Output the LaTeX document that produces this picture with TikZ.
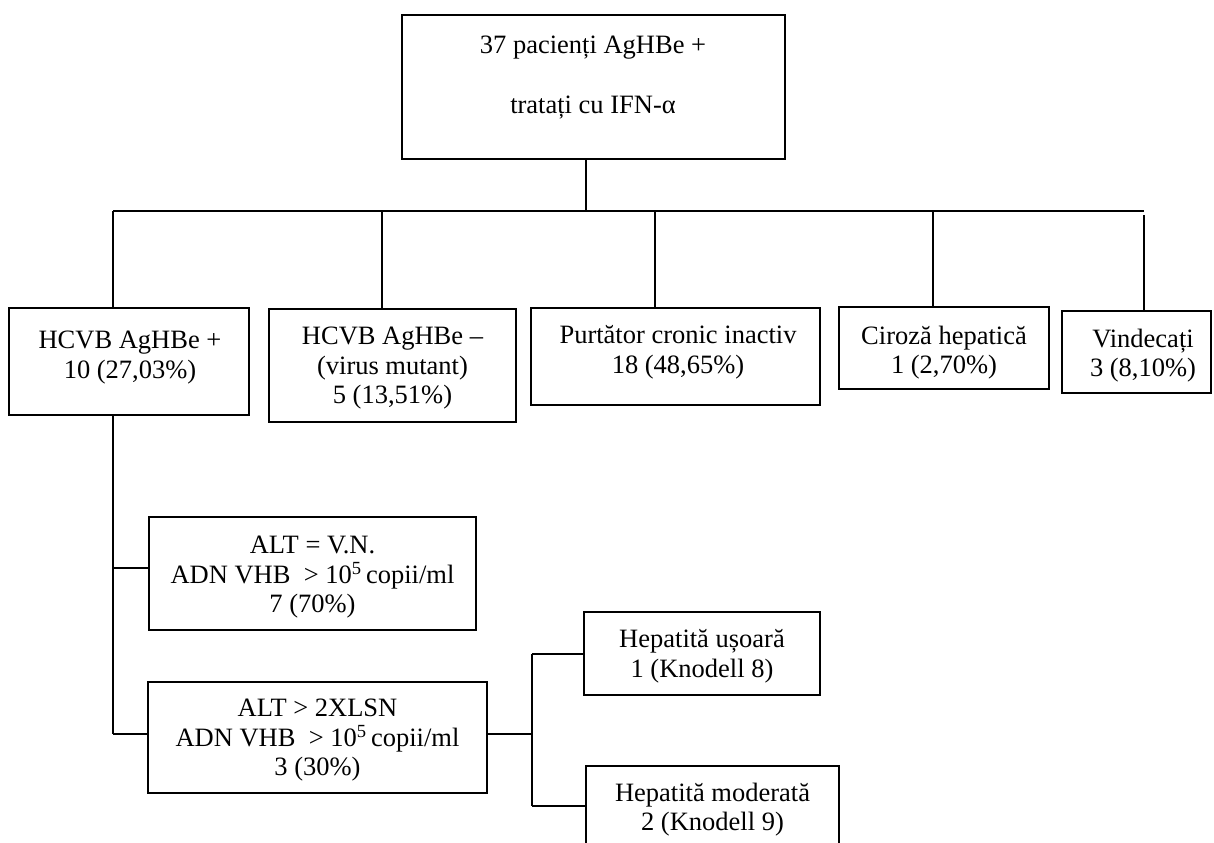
\documentclass[tikz,border=0pt]{standalone}
\usepackage{fontspec}
\setmainfont{Liberation Serif}
\begin{document}
\begin{tikzpicture}[x=1bp,y=-1bp,
  box/.style={draw, rectangle, line width=1.5bp, inner sep=0pt},
  txt/.style={align=center, inner sep=0pt, font=\fontsize{26.5bp}{29.5bp}\selectfont},
  conn/.style={line width=1.5bp}]
\useasboundingbox (0,0) rectangle (1214,843);
\clip (0,0) rectangle (1214,843);
% boxes
\node[box, minimum width=383bp, minimum height=144bp] (top) at (593.5,87) {};
\node[txt] (toptxt) at (593,77.5) {37 pacienți AgHBe +\\[30.5bp]tratați cu IFN-α};
\node[box, minimum width=240bp, minimum height=107bp] (b1) at (129,361.5) {};
\node[txt] (b1t) at (130,357.5) {HCVB AgHBe +\\10 (27,03\%)};
\node[box, minimum width=247bp, minimum height=113bp] (b2) at (392.5,365.5) {};
\node[txt] (b2t) at (392.5,368.5) {HCVB AgHBe –\\(virus mutant)\\5 (13,51\%)};
\node[box, minimum width=289bp, minimum height=97bp] (b3) at (675.5,356.5) {};
\node[txt] (b3t) at (678,352.5) {Purtător cronic inactiv\\18 (48,65\%)};
\node[box, minimum width=210bp, minimum height=82bp] (b4) at (944,348) {};
\node[txt] (b4t) at (944,352.5) {Ciroză hepatică\\1 (2,70\%)};
\node[box, minimum width=149bp, minimum height=82bp] (b5) at (1136.5,352) {};
\node[txt] (b5t) at (1143,355.5) {Vindecați\\3 (8,10\%)};
\node[box, minimum width=327bp, minimum height=113bp] (a1) at (312.5,573.5) {};
\node[txt] (a1t) at (312.5,577.5) {ALT = V.N.\\ADN VHB \ > 10\textsuperscript{5}\,copii/ml\\7 (70\%)};
\node[box, minimum width=339bp, minimum height=111bp] (a2) at (317.5,737.5) {};
\node[txt] (a2t) at (317.5,740.5) {ALT > 2XLSN\\ADN VHB \ > 10\textsuperscript{5}\,copii/ml\\3 (30\%)};
\node[box, minimum width=236bp, minimum height=83bp] (h1) at (702,653.5) {};
\node[txt] (h1t) at (702,656.5) {Hepatită ușoară\\1 (Knodell 8)};
\node[box, minimum width=253bp, minimum height=84bp] (h2) at (712.5,808) {};
\node[txt] (h2t) at (712.5,809.5) {Hepatită moderată\\2 (Knodell 9)};
% connector coordinates
\coordinate (tj) at (586,211);
\coordinate (d1) at (113,211);
\coordinate (d2) at (382,211);
\coordinate (d3) at (655,211);
\coordinate (d4) at (933,211);
\coordinate (d5) at (1144,211);
\coordinate (d5s) at (1144,215);
\coordinate (t1) at (113,568);
\coordinate (t2) at (113,734);
\coordinate (k) at (532,734);
\coordinate (k1) at (532,654);
\coordinate (k2) at (532,806);
% connectors
\draw[conn] (tj |- top.south) -- (tj);
\draw[conn] (d1) -- (d5);
\draw[conn] (d1) -- (d1 |- b1.north);
\draw[conn] (d2) -- (d2 |- b2.north);
\draw[conn] (d3) -- (d3 |- b3.north);
\draw[conn] (d4) -- (d4 |- b4.north);
\draw[conn] (d5s) -- (d5s |- b5.north);
\draw[conn] (d1 |- b1.south) -- (t2);
\draw[conn] (t1) -- (t1 -| a1.west);
\draw[conn] (t2) -- (t2 -| a2.west);
\draw[conn] (k -| a2.east) -- (k);
\draw[conn] (k1) -- (k2);
\draw[conn] (k1) -- (k1 -| h1.west);
\draw[conn] (k2) -- (k2 -| h2.west);
\end{tikzpicture}
\end{document}
